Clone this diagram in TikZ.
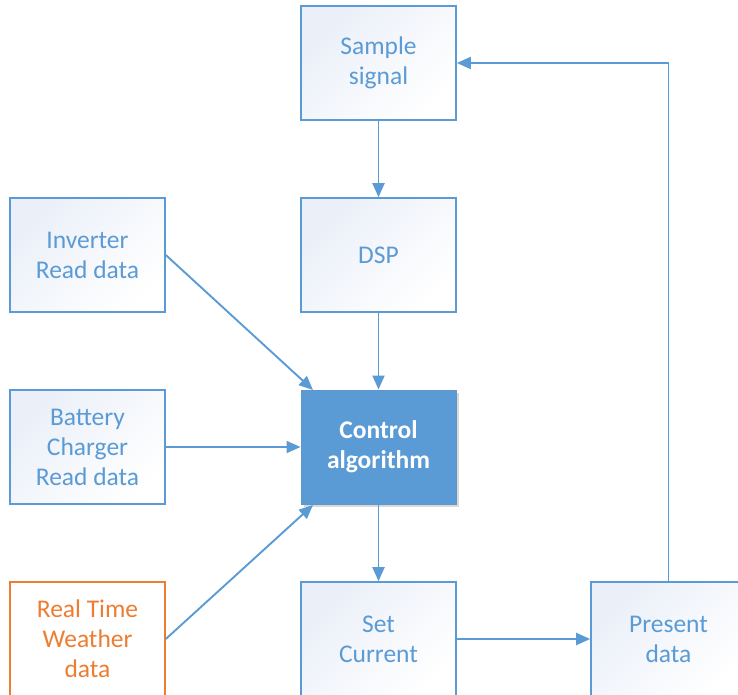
\documentclass[tikz,border=0pt]{standalone}
\usepackage{fontspec}
\setmainfont{Carlito}
\usetikzlibrary{arrows.meta,shadows}
\definecolor{flowblue}{HTML}{5B9BD5}
\definecolor{flowtext}{HTML}{5B9BD5}
\definecolor{floworange}{HTML}{ED7D31}
\definecolor{gradlight}{HTML}{EAEFF8}
\tikzset{
  box/.style={draw=flowblue, line width=1.6pt, minimum width=155pt, minimum height=114pt,
    inner sep=0pt, align=center, text=flowtext,
    font=\fontsize{25.5}{30}\selectfont,
    shading=axis, top color=gradlight, bottom color=white, shading angle=45},
  orangebox/.style={draw=floworange, line width=1.6pt, minimum width=155pt, minimum height=114pt,
    inner sep=0pt, align=center, text=floworange, fill=white,
    font=\fontsize{25.5}{30}\selectfont},
  ctrlbox/.style={draw=flowblue!85!gray, line width=1pt, minimum width=155pt, minimum height=114pt,
    inner sep=0pt, align=center, text=white, fill=flowblue,
    font=\fontsize{25.5}{30}\selectfont\bfseries,
    drop shadow={shadow xshift=3pt, shadow yshift=-3pt, fill=black, opacity=0.15}},
  link/.style={draw=flowblue, line width=1.9pt, -{Triangle[length=14pt,width=12pt]}}
}
\begin{document}
\begin{tikzpicture}[x=1pt,y=-1pt]
\useasboundingbox (0,0) rectangle (738,695);
\clip (0,0) rectangle (738,695);

% main column
\node[box] (sample) at (378.5,63) {Sample\\signal};
\node[box] (dsp) at (378.5,255) {DSP};
\node[ctrlbox] (ctrl) at (378.5,447) {Control\\algorithm};
\node[box] (setc) at (378.5,639) {Set\\Current};

% inputs on the left
\node[box] (inv) at (87.5,255) {Inverter\\Read data};
\node[box] (batt) at (87.5,447) {Battery\\Charger\\Read data};
\node[orangebox] (weather) at (87.5,639) {Real Time\\Weather\\data};

% output on the right
\node[box] (present) at (668.5,639) {Present\\data};

% connectors
\coordinate (ctrlTL) at (313,390);
\coordinate (ctrlBL) at (313,505);
\draw[link] (sample.south) -- (dsp.north);
\draw[link] (dsp.south) -- (ctrl.north);
\draw[link] (ctrl.south) -- (setc.north);
\draw[link] (inv.east) -- (ctrlTL);
\draw[link] (batt.east) -- (ctrl.west);
\draw[link] (weather.east) -- (ctrlBL);
\draw[link] (setc.east) -- (present.west);
\draw[link] (present.north) |- (sample.east);
\end{tikzpicture}
\end{document}
